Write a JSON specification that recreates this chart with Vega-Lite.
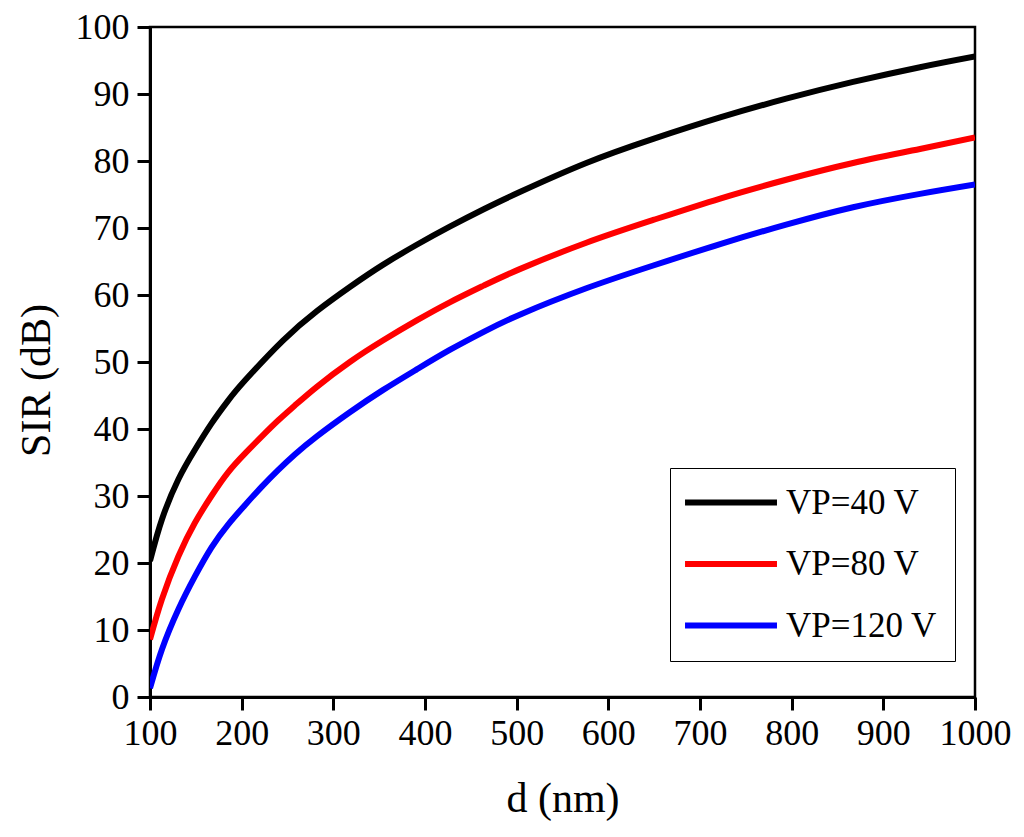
{
  "$schema": "https://vega.github.io/schema/vega-lite/v6.json",
  "width": 825,
  "height": 670,
  "autosize": {"type": "none"},
  "padding": {"left": 150, "top": 27, "right": 49, "bottom": 140},
  "background": "white",
  "config": {
    "font": "Liberation Serif",
    "view": {"stroke": "black", "strokeWidth": 2.5},
    "axis": {
      "grid": false,
      "domainColor": "black",
      "domainWidth": 3,
      "tickColor": "black",
      "tickWidth": 3,
      "tickSize": 13,
      "labelColor": "black",
      "labelFontSize": 36,
      "labelFont": "Liberation Serif",
      "titleColor": "black",
      "titleFont": "Liberation Serif",
      "titleFontSize": 42,
      "titleFontWeight": "normal"
    }
  },
  "data": {
    "values": [
      {"d": 100, "sir": 20.3, "s": "VP=40 V"},
      {"d": 113, "sir": 26.5, "s": "VP=40 V"},
      {"d": 131, "sir": 32.5, "s": "VP=40 V"},
      {"d": 149, "sir": 36.9, "s": "VP=40 V"},
      {"d": 167, "sir": 40.8, "s": "VP=40 V"},
      {"d": 185, "sir": 44.2, "s": "VP=40 V"},
      {"d": 204, "sir": 47.3, "s": "VP=40 V"},
      {"d": 245, "sir": 53.2, "s": "VP=40 V"},
      {"d": 282, "sir": 57.6, "s": "VP=40 V"},
      {"d": 318, "sir": 61.2, "s": "VP=40 V"},
      {"d": 354, "sir": 64.5, "s": "VP=40 V"},
      {"d": 391, "sir": 67.5, "s": "VP=40 V"},
      {"d": 427, "sir": 70.2, "s": "VP=40 V"},
      {"d": 464, "sir": 72.8, "s": "VP=40 V"},
      {"d": 504, "sir": 75.4, "s": "VP=40 V"},
      {"d": 576, "sir": 79.7, "s": "VP=40 V"},
      {"d": 649, "sir": 83.3, "s": "VP=40 V"},
      {"d": 722, "sir": 86.5, "s": "VP=40 V"},
      {"d": 794, "sir": 89.3, "s": "VP=40 V"},
      {"d": 867, "sir": 91.8, "s": "VP=40 V"},
      {"d": 940, "sir": 94.0, "s": "VP=40 V"},
      {"d": 1000, "sir": 95.6, "s": "VP=40 V"},
      {"d": 100, "sir": 8.6, "s": "VP=80 V"},
      {"d": 113, "sir": 14.6, "s": "VP=80 V"},
      {"d": 131, "sir": 21.0, "s": "VP=80 V"},
      {"d": 149, "sir": 26.0, "s": "VP=80 V"},
      {"d": 167, "sir": 30.0, "s": "VP=80 V"},
      {"d": 185, "sir": 33.5, "s": "VP=80 V"},
      {"d": 204, "sir": 36.4, "s": "VP=80 V"},
      {"d": 222, "sir": 38.9, "s": "VP=80 V"},
      {"d": 240, "sir": 41.3, "s": "VP=80 V"},
      {"d": 258, "sir": 43.5, "s": "VP=80 V"},
      {"d": 282, "sir": 46.3, "s": "VP=80 V"},
      {"d": 318, "sir": 50.0, "s": "VP=80 V"},
      {"d": 354, "sir": 53.2, "s": "VP=80 V"},
      {"d": 391, "sir": 56.2, "s": "VP=80 V"},
      {"d": 427, "sir": 58.9, "s": "VP=80 V"},
      {"d": 464, "sir": 61.4, "s": "VP=80 V"},
      {"d": 504, "sir": 63.9, "s": "VP=80 V"},
      {"d": 576, "sir": 67.8, "s": "VP=80 V"},
      {"d": 649, "sir": 71.2, "s": "VP=80 V"},
      {"d": 722, "sir": 74.4, "s": "VP=80 V"},
      {"d": 794, "sir": 77.2, "s": "VP=80 V"},
      {"d": 867, "sir": 79.7, "s": "VP=80 V"},
      {"d": 940, "sir": 81.8, "s": "VP=80 V"},
      {"d": 1000, "sir": 83.5, "s": "VP=80 V"},
      {"d": 100, "sir": 1.3, "s": "VP=120 V"},
      {"d": 113, "sir": 7.1, "s": "VP=120 V"},
      {"d": 131, "sir": 13.1, "s": "VP=120 V"},
      {"d": 149, "sir": 18.0, "s": "VP=120 V"},
      {"d": 167, "sir": 22.3, "s": "VP=120 V"},
      {"d": 185, "sir": 25.7, "s": "VP=120 V"},
      {"d": 204, "sir": 28.7, "s": "VP=120 V"},
      {"d": 222, "sir": 31.4, "s": "VP=120 V"},
      {"d": 240, "sir": 33.9, "s": "VP=120 V"},
      {"d": 258, "sir": 36.2, "s": "VP=120 V"},
      {"d": 282, "sir": 38.9, "s": "VP=120 V"},
      {"d": 318, "sir": 42.5, "s": "VP=120 V"},
      {"d": 354, "sir": 45.8, "s": "VP=120 V"},
      {"d": 391, "sir": 48.9, "s": "VP=120 V"},
      {"d": 427, "sir": 51.8, "s": "VP=120 V"},
      {"d": 464, "sir": 54.5, "s": "VP=120 V"},
      {"d": 504, "sir": 57.1, "s": "VP=120 V"},
      {"d": 576, "sir": 61.0, "s": "VP=120 V"},
      {"d": 649, "sir": 64.4, "s": "VP=120 V"},
      {"d": 722, "sir": 67.6, "s": "VP=120 V"},
      {"d": 794, "sir": 70.5, "s": "VP=120 V"},
      {"d": 867, "sir": 73.1, "s": "VP=120 V"},
      {"d": 940, "sir": 75.1, "s": "VP=120 V"},
      {"d": 1000, "sir": 76.5, "s": "VP=120 V"}
    ]
  },
  "mark": {"type": "line", "strokeWidth": 6, "interpolate": "natural", "strokeCap": "butt", "clip": true},
  "encoding": {
    "x": {
      "field": "d",
      "type": "quantitative",
      "scale": {"domain": [100, 1000], "nice": false, "zero": false},
      "axis": {
        "title": "d (nm)",
        "format": "d",
        "values": [100, 200, 300, 400, 500, 600, 700, 800, 900, 1000],
        "labelPadding": 6,
        "titlePadding": 27,
        "labelFlush": false
      }
    },
    "y": {
      "field": "sir",
      "type": "quantitative",
      "scale": {"domain": [0, 100], "nice": false},
      "axis": {
        "title": "SIR (dB)",
        "values": [0, 10, 20, 30, 40, 50, 60, 70, 80, 90, 100],
        "labelPadding": 8,
        "titlePadding": 17,
        "titleY": 353,
        "labelFlush": false
      }
    },
    "color": {
      "field": "s",
      "type": "nominal",
      "sort": ["VP=40 V", "VP=80 V", "VP=120 V"],
      "scale": {"domain": ["VP=40 V", "VP=80 V", "VP=120 V"], "range": ["#000000", "#ff0000", "#0000ff"]},
      "legend": {
        "title": null,
        "orient": "none",
        "legendX": 520,
        "legendY": 441,
        "strokeColor": "black",
        "padding": 17,
        "symbolType": "M-2.05,0H7.63",
        "symbolSize": 361,
        "symbolStrokeWidth": 6,
        "labelFontSize": 35,
        "labelFont": "Liberation Serif",
        "labelColor": "black",
        "labelOffset": 64,
        "rowPadding": 25.5,
        "labelLimit": 300
      }
    }
  }
}
